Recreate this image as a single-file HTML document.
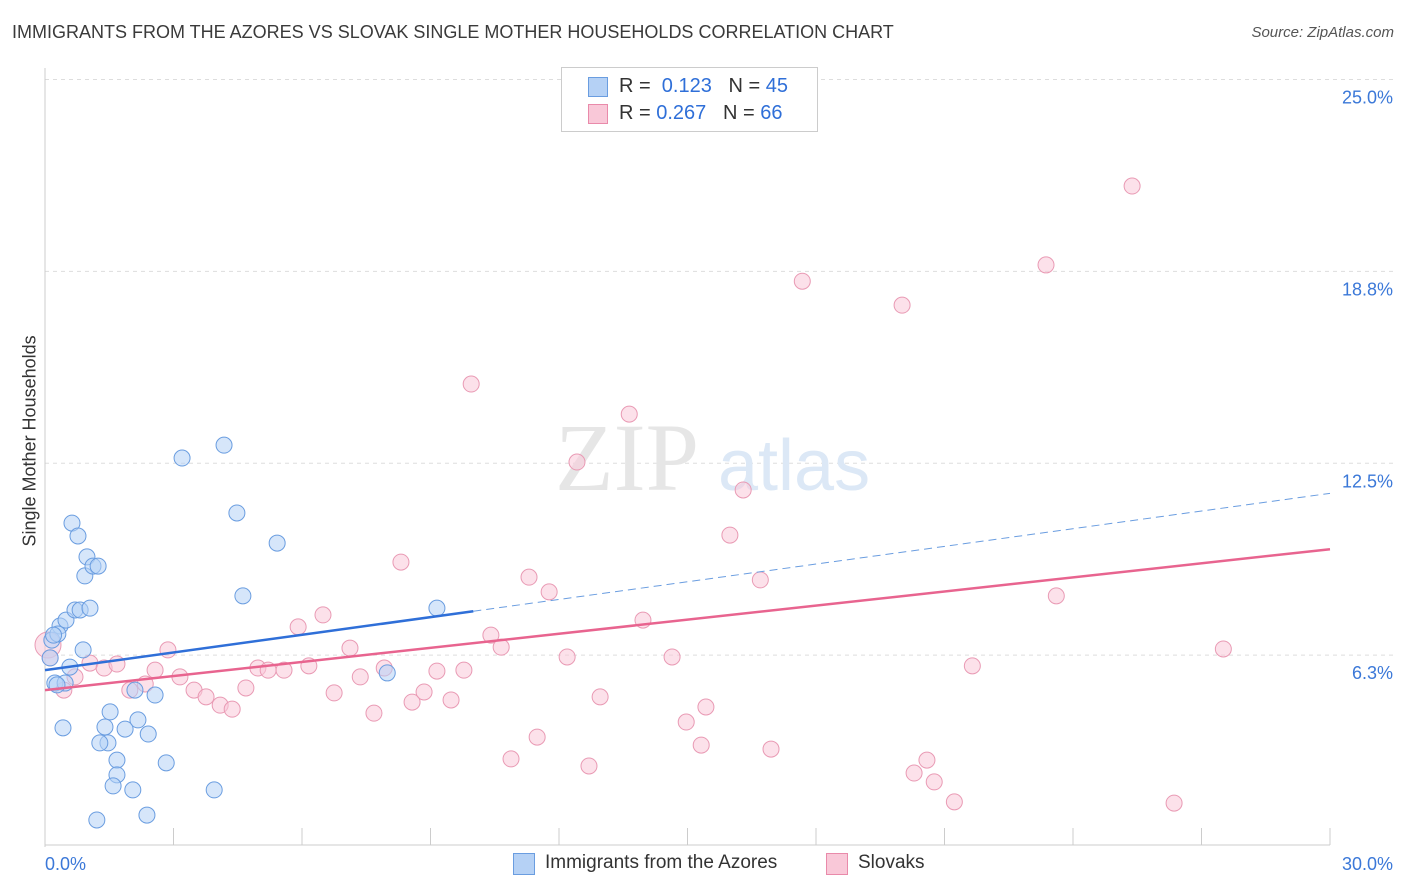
<!DOCTYPE html>
<html><head><meta charset="utf-8">
<style>
body{margin:0;background:#fff;font-family:"Liberation Sans",sans-serif;}
#wrap{position:relative;width:1406px;height:892px;overflow:hidden;}
.t{position:absolute;white-space:nowrap;}
</style></head>
<body>
<div id="wrap">
<div class="t" style="left:12px;top:22px;font-size:18px;color:#3a3a3a;">IMMIGRANTS FROM THE AZORES VS SLOVAK SINGLE MOTHER HOUSEHOLDS CORRELATION CHART</div>
<div class="t" style="right:12px;top:24px;font-size:15px;color:#555;font-style:italic;">Source: ZipAtlas.com</div>
<div class="t" style="left:-60px;top:446px;width:180px;text-align:center;font-size:18px;color:#333;transform:rotate(-90deg);">Single Mother Households</div>
<svg id="svg" width="1406" height="892" style="position:absolute;left:0;top:0"></svg>
<div style="position:absolute;left:561px;top:67px;width:255px;height:63px;border:1px solid #ccc;background:#fff;">
 <div style="position:absolute;left:26px;top:9px;width:18px;height:18px;background:#b5d1f5;border:1px solid #6a9de0;"></div>
 <div class="t" style="left:57px;top:7px;font-size:20px;color:#333;">R = <span style="color:#2f6fd8">&nbsp;0.123</span>&nbsp;&nbsp;&nbsp;N = <span style="color:#2f6fd8">45</span></div>
 <div style="position:absolute;left:26px;top:36px;width:18px;height:18px;background:#f9c8d8;border:1px solid #e98aaa;"></div>
 <div class="t" style="left:57px;top:34px;font-size:20px;color:#333;">R = <span style="color:#2f6fd8">0.267</span>&nbsp;&nbsp;&nbsp;N = <span style="color:#2f6fd8">66</span></div>
</div>
<div>
 <div style="position:absolute;left:513px;top:853px;width:20px;height:20px;background:#b5d1f5;border:1px solid #6a9de0;"></div>
 <div class="t" style="left:545px;top:852px;font-size:19px;color:#333;">Immigrants from the Azores</div>
 <div style="position:absolute;left:826px;top:853px;width:20px;height:20px;background:#f9c8d8;border:1px solid #e98aaa;"></div>
 <div class="t" style="left:858px;top:852px;font-size:19px;color:#333;">Slovaks</div>
</div>
</div>
<script>
const yTicks=[6.25,12.5,18.75,25];
const yTickLabels=["6.3%","12.5%","18.8%","25.0%"];
const xTickLabels=["0.0%","30.0%"];
const blueX=[0.16,0.12,0.23,0.35,0.30,0.49,0.63,0.77,0.58,0.47,0.42,0.70,0.82,1.05,0.89,0.98,0.93,1.12,1.24,1.52,1.40,1.47,1.28,1.68,1.68,1.59,1.87,2.05,2.17,2.10,2.41,2.57,2.83,2.38,1.21,3.20,4.18,4.48,4.62,3.95,5.42,7.99,9.15,0.28,0.20];
const blueY=[6.74,6.16,5.34,7.20,6.94,7.39,10.55,10.13,5.86,5.34,3.88,7.72,7.72,7.78,6.42,9.45,8.83,9.15,9.15,4.40,3.91,3.39,3.39,2.83,2.35,1.99,3.84,1.86,4.14,5.11,3.68,4.95,2.74,1.04,0.88,12.67,13.09,10.88,8.18,1.86,9.90,5.67,7.78,5.28,6.90];
const pinkX=[0.07,0.12,0.44,0.70,1.05,1.38,1.68,1.98,2.34,2.57,2.87,3.15,3.48,3.76,4.09,4.37,4.69,4.97,5.21,5.58,5.91,6.16,6.49,6.75,7.12,7.36,7.68,7.92,8.31,8.57,8.85,9.15,9.48,9.78,9.95,10.41,10.65,10.88,11.30,11.49,11.77,12.19,12.42,12.70,12.96,13.64,13.96,14.64,14.97,15.32,15.43,15.99,16.30,16.70,16.95,17.68,20.01,20.29,20.59,20.76,21.23,21.65,23.37,23.61,25.38,26.36,27.51];
const pinkY=[6.58,6.16,5.11,5.54,5.99,5.83,5.96,5.11,5.31,5.76,6.42,5.54,5.11,4.89,4.62,4.49,5.18,5.83,5.76,5.76,7.17,5.90,7.56,5.02,6.48,5.54,4.36,5.83,9.28,4.72,5.05,5.73,4.79,5.76,15.08,6.90,6.51,2.87,8.79,3.58,8.31,6.19,12.54,2.64,4.89,14.10,7.39,6.19,4.07,3.32,4.56,10.16,11.63,8.70,3.19,18.43,17.65,2.41,2.83,2.12,1.47,5.90,18.96,8.18,21.53,1.43,6.45];
const blueTrend=[5.76,0.192];
const pinkTrend=[5.11,0.153];
const NS="http://www.w3.org/2000/svg";
const svg=document.getElementById('svg');
const X0=45,X1=1330,Y0=847,PX=(X1-X0)/30,PY=30.7;
const xs=v=>X0+v*PX, ys=v=>Y0-v*PY;
function mk(tag,attrs){const e=document.createElementNS(NS,tag);for(const k in attrs)e.setAttribute(k,attrs[k]);svg.appendChild(e);return e;}
// gridlines
yTicks.forEach((t,i)=>{
 const g=mk('line',{x1:X0,x2:1395,y1:ys(t),y2:ys(t),stroke:'#ddd','stroke-dasharray':'4,4'});
 
 
 const tx=mk('text',{x:1393,y:ys(t)+24,'text-anchor':'end','font-size':18,fill:'#3b78d8','font-family':'Liberation Sans, sans-serif'});
 tx.textContent=yTickLabels[i];
 
 
});
// axes
const ax=mk('line',{x1:X0,x2:X0,y1:68,y2:Y0,stroke:'#ccc'});


const bx=mk('line',{x1:X0,x2:X1,y1:Y0-2,y2:Y0-2,stroke:'#ccc'});


for(let i=1;i<=10;i++){
 const tk=mk('line',{x1:xs(i*3),x2:xs(i*3),y1:828,y2:845,stroke:'#ccc'});
 
 
}
[[0,'start',45],[30,'end',1393]].forEach((d,i)=>{
 const tx=mk('text',{x:d[2],y:870,'text-anchor':d[1],'font-size':18,fill:'#3b78d8','font-family':'Liberation Sans, sans-serif'});
 tx.textContent=xTickLabels[i];
 
 
});
// watermark
const wm=mk('text',{x:555,y:490,'font-size':96,fill:'#e6e6e6','font-family':'Liberation Serif, serif'});
wm.textContent='ZIP';


const wm2=mk('text',{x:718,y:490,'font-size':72,fill:'#dce8f6','font-family':'Liberation Sans, sans-serif'});
wm2.textContent='atlas';


// points
function pts(X,Y,fill,stroke,name){
 X.forEach((x,i)=>{
  const c=mk('circle',{cx:xs(x),cy:ys(Y[i]),r:(name==='pink-point'&&i===0)?13:8,fill:fill,'fill-opacity':0.55,stroke:stroke,'stroke-width':1});
  
  
 });
}
pts(pinkX,pinkY,'#f9c8d8','#e99ab4','pink-point');
pts(blueX,blueY,'#b5d1f5','#6a9de0','blue-point');
// trends
const bl=mk('line',{x1:xs(0),y1:ys(blueTrend[0]),x2:xs(10),y2:ys(blueTrend[0]+blueTrend[1]*10),stroke:'#2f6fd8','stroke-width':2.5});


const bd=mk('line',{x1:xs(10),y1:ys(blueTrend[0]+blueTrend[1]*10),x2:xs(30),y2:ys(blueTrend[0]+blueTrend[1]*30),stroke:'#6a9de0','stroke-width':1,'stroke-dasharray':'8,5'});


const pl=mk('line',{x1:xs(0),y1:ys(pinkTrend[0]),x2:xs(30),y2:ys(pinkTrend[0]+pinkTrend[1]*30),stroke:'#e8648f','stroke-width':2.5});


</script>
</body></html>
